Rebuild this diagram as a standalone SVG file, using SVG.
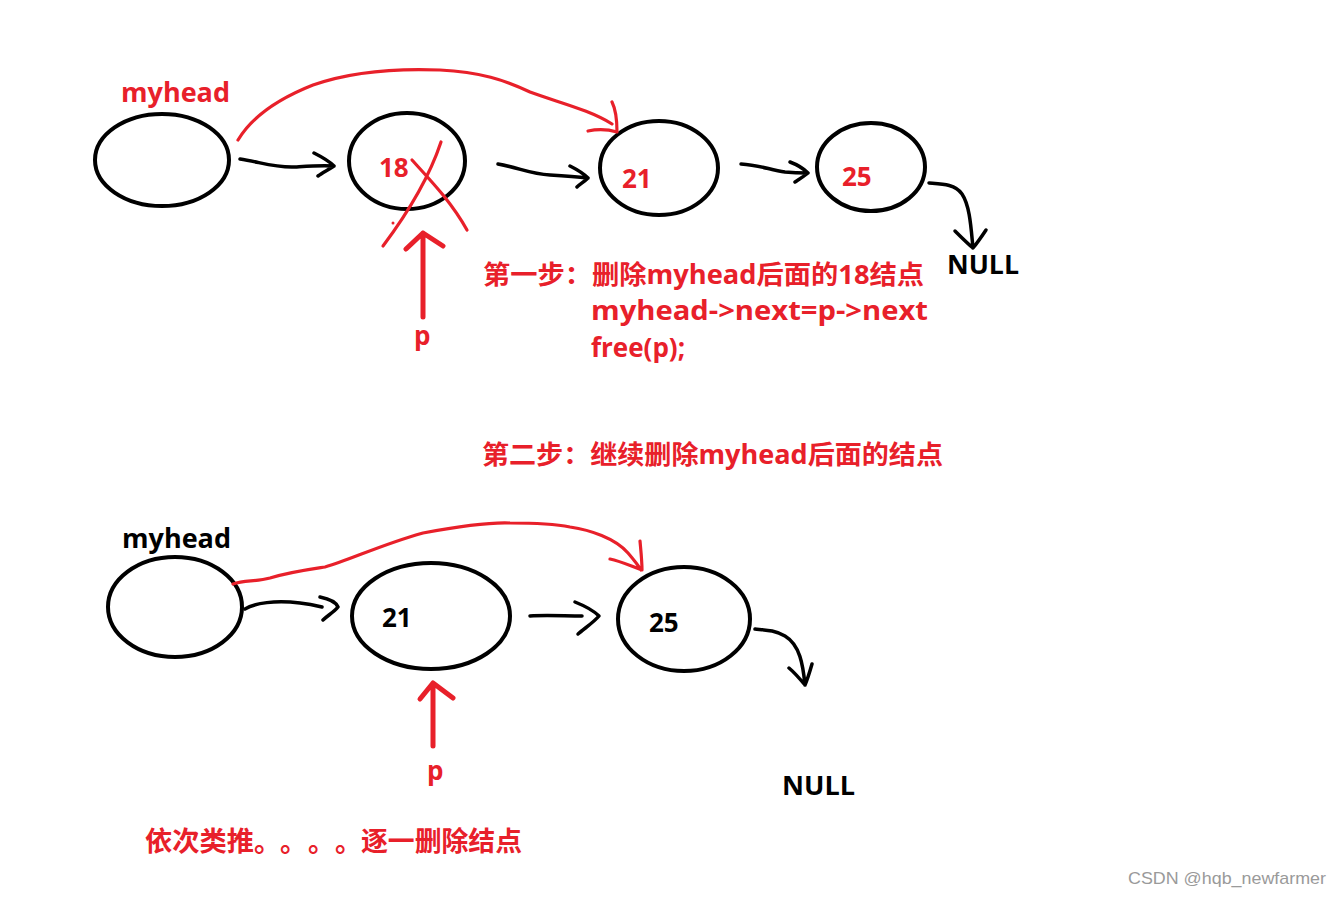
<svg xmlns="http://www.w3.org/2000/svg" width="1342" height="897" viewBox="0 0 1342 897">
<style>
.node{fill:none;stroke:#000;stroke-width:4}
.blk{fill:none;stroke:#000;stroke-width:3.5;stroke-linecap:round;stroke-linejoin:round}
.red{fill:none;stroke:#e8202a;stroke-width:3.2;stroke-linecap:round;stroke-linejoin:round}
.redp{fill:none;stroke:#e8202a;stroke-width:5;stroke-linecap:round;stroke-linejoin:round}
.t{font-family:"Open Sans","Noto Sans CJK SC",sans-serif;font-weight:bold;font-size:26px}
.c{font-family:"Noto Sans CJK SC",sans-serif;font-weight:bold;font-size:27px}
.tr{fill:#e8202a}
.tb{fill:#000}
.wm{font-family:"Liberation Sans",Arial,sans-serif;font-size:17px;fill:#9a9a9a}
</style>
<rect width="1342" height="897" fill="#fff"/>

<!-- top row nodes -->
<g id="top-head">
<ellipse class="node" cx="162" cy="160" rx="67" ry="46"/>
<text class="t tr" x="121" y="102" textLength="109" lengthAdjust="spacingAndGlyphs">myhead</text>
</g>
<g id="top-n18">
<ellipse class="node" cx="407" cy="161" rx="58" ry="48"/>
<text class="t tr" x="379" y="177">18</text>
</g>
<g id="top-n21">
<ellipse class="node" cx="659" cy="168" rx="59" ry="47"/>
<text class="t tr" x="622" y="188">21</text>
</g>
<g id="top-n25">
<ellipse class="node" cx="871" cy="167" rx="54" ry="44"/>
<text class="t tr" x="842" y="186">25</text>
</g>
<g id="top-null">
<text class="t tb" x="947" y="274" textLength="72" lengthAdjust="spacingAndGlyphs">NULL</text>
</g>
<g id="top-p">
<path class="redp" d="M423,317 L423,233 M406,249 L423,233 L443,246"/>
<text class="t tr" x="414" y="345">p</text>
</g>

<!-- bottom row nodes -->
<g id="bot-head">
<ellipse class="node" cx="175" cy="607" rx="67" ry="50"/>
<text class="t tb" x="122" y="548" textLength="109" lengthAdjust="spacingAndGlyphs">myhead</text>
</g>
<g id="bot-n21">
<ellipse class="node" cx="431" cy="616" rx="79" ry="53"/>
<text class="t tb" x="382" y="627">21</text>
</g>
<g id="bot-n25">
<ellipse class="node" cx="684" cy="619" rx="66" ry="52"/>
<text class="t tb" x="649" y="632">25</text>
</g>
<g id="bot-null">
<text class="t tb" x="782" y="795" textLength="73" lengthAdjust="spacingAndGlyphs">NULL</text>
</g>
<g id="bot-p">
<path class="redp" d="M433,746 L433,683 M420,699 L433,683 L453,698"/>
<text class="t tr" x="427" y="780">p</text>
</g>

<!-- connectors -->
<g id="connectors">
<!-- top black arrows -->
<path class="blk" d="M240,159 C260,162 275,168 295,167 C310,166 322,165 334,166 M314,153 C322,157 330,162 334,166 C328,170 322,173 318,176"/>
<path class="blk" d="M498,164 C520,168 530,174 550,175 C565,176 578,177 588,178 M570,166 C578,170 584,174 588,178 C584,182 580,184 577,187"/>
<path class="blk" d="M741,164 C760,165 770,170 785,172 C795,173 802,173 808,173 M790,162 C798,165 804,169 808,173 C803,177 798,180 795,182"/>
<path class="blk" d="M929,183 C942,184 955,184 962,194 C970,206 971,228 973,248 M955,231 C962,238 968,244 973,248 C978,242 982,236 986,230"/>
<!-- top red skip arrow -->
<path class="red" d="M238,140 C250,120 275,100 313,85 C350,72 390,68 440,70 C480,72 505,80 530,92 C560,103 590,110 612,124 M612,102 C616,110 617,120 617,132 C607,129 597,129 588,131"/>
<!-- red cross on 18 -->
<path class="red" d="M441,142 C430,175 410,210 383,246 M412,160 C430,180 450,200 467,230"/>
<circle cx="393" cy="223" r="1.5" fill="#e8202a"/>

<!-- bottom black arrows -->
<path class="blk" d="M245,609 C255,603 275,600 300,603 C310,604 318,606 322,607 M320,597 C330,599 336,602 338,607 C334,612 327,616 323,620"/>
<path class="blk" d="M530,616 C545,615 565,616 582,616 M575,602 C585,606 593,610 599,616 C594,622 585,628 578,634"/>
<path class="blk" d="M755,629 C765,630 775,630 785,636 C800,645 803,665 805,685 M789,668 C795,673 800,679 805,685 C808,678 810,671 812,664"/>
<!-- bottom red skip arrow -->
<path class="red" d="M233,584 C245,580 255,582 270,578 C290,572 305,570 325,567 C350,560 380,545 423,533 C455,527 485,522 510,523 C535,523 555,524 570,527 C590,530 615,538 628,553 C634,560 638,565 641,570 M640,541 C641,552 642,561 642,570 C631,566 620,561 610,559"/>
</g>

<!-- annotation text -->
<g id="notes">
<text class="t tr" x="483" y="284" textLength="441" lengthAdjust="spacingAndGlyphs">第一步：删除myhead后面的18结点</text>
<text class="t tr" x="591" y="320" textLength="337" lengthAdjust="spacingAndGlyphs">myhead-&gt;next=p-&gt;next</text>
<text class="t tr" x="591" y="357">free(p);</text>
<text class="t tr" x="482" y="464" textLength="461" lengthAdjust="spacingAndGlyphs">第二步：继续删除myhead后面的结点</text>
<text class="c tr" x="145" y="851" textLength="109" lengthAdjust="spacingAndGlyphs">依次类推</text>
<text class="c tr" x="254 280 308 335" y="852">。。。。</text>
<text class="c tr" x="361" y="851" textLength="161" lengthAdjust="spacingAndGlyphs">逐一删除结点</text>
<text class="wm" x="1128" y="884" textLength="198" lengthAdjust="spacingAndGlyphs">CSDN @hqb_newfarmer</text>
</g>
</svg>
